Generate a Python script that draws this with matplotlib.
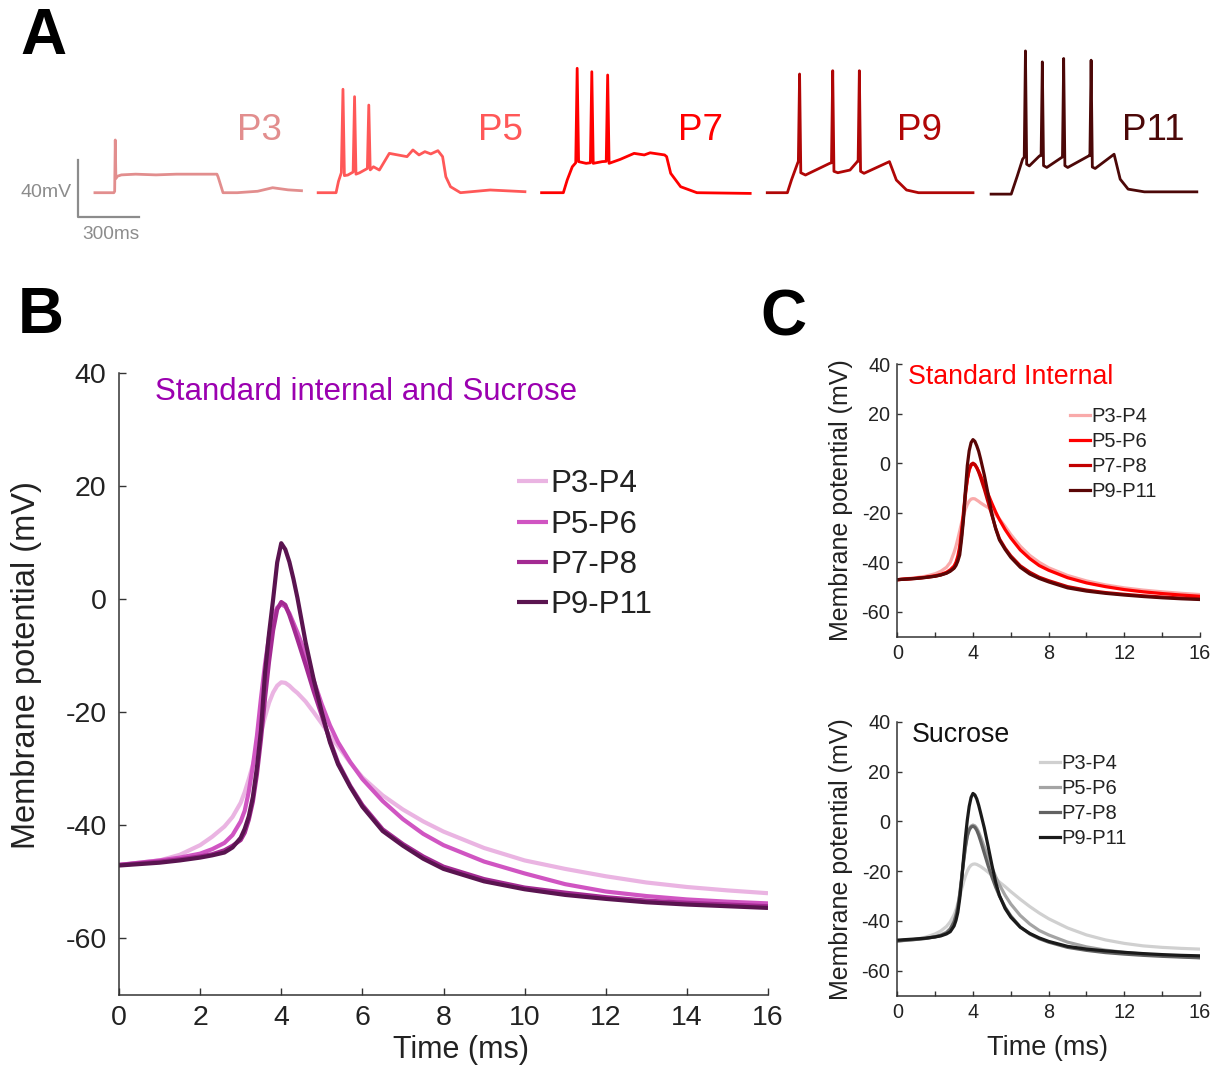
import matplotlib
matplotlib.use("Agg")
import matplotlib.pyplot as plt
from matplotlib.ticker import MultipleLocator

plt.rcParams['font.family'] = ['Liberation Sans', 'DejaVu Sans']
plt.rcParams['axes.unicode_minus'] = False

# ---------------- data ----------------
# panel A: example current-clamp traces (ms, mV re. baseline)
a_labels = ['P3', 'P5', 'P7', 'P9', 'P11']
a_p3_t = [0, 93, 97, 100, 103, 110, 130, 200, 300, 400, 500, 600, 606, 630, 700, 800, 874, 950, 1016]
a_p3_v = [0, 0, 1, 37, 10, 11.5, 12.5, 13, 12.5, 13, 13, 13, 11, 0, 0, 1, 3.5, 2, 1.4]
a_p5_t = [0, 88, 100, 114, 122, 129, 146, 172, 179, 186, 204, 242, 249, 256, 272, 301, 350, 437, 466,
          496, 525, 554, 589, 612, 628, 651, 700, 846, 1017]
a_p5_v = [0, 0, 8, 14, 72.6, 12, 12.4, 14.5, 67.4, 13, 14, 17, 61.5, 16, 18.2, 15.9, 27.6, 25.3, 30,
          26.5, 28.8, 27.2, 29.5, 25.3, 11.2, 4.2, 0, 1.9, 0.7]
a_p7_t = [0, 107, 126, 151, 168, 175, 182, 219, 240, 247, 254, 298, 318, 325, 332, 387, 455, 505, 534,
          605, 615, 635, 684, 764, 1026]
a_p7_v = [0, 0, 8.9, 18.2, 21, 87.3, 21.8, 20.6, 21, 84.9, 20.6, 21.8, 22, 82.6, 20.6, 23.4, 27.6, 26.5, 28,
          26.5, 25.3, 13.6, 4.2, 0, -0.5]
a_p9_t = [0, 99, 119, 149, 153, 159, 165, 188, 307, 316, 322, 328, 347, 407, 443, 447, 453, 459, 476,
          546, 601, 635, 685, 744, 1012]
a_p9_v = [0, 0, 8.9, 20.6, 22, 83.3, 14, 12.4, 20.6, 21, 85.6, 15, 14, 15.9, 21.8, 22, 85.6, 15, 13.6,
          18.2, 21.8, 8.9, 1.9, 0, 0]
a_p11_t = [0, 99, 129, 155, 163, 169, 175, 188, 238, 246, 252, 258, 274, 347, 351, 357, 363, 377, 480,
           486, 492, 498, 512, 605, 635, 674, 754, 1012]
a_p11_v = [-1, -1, 11.8, 23.5, 25, 99.5, 20, 18.8, 25.8, 26, 91.8, 19, 17.7, 24.7, 25, 94.2, 19, 17.7, 25.8,
           26, 93, 18, 17, 27, 9.5, 2.5, 0.6, 0.6]

# panels B and C: averaged action potentials
ages = ['P3-P4', 'P5-P6', 'P7-P8', 'P9-P11']
time_ms = [0, 1, 1.5, 2, 2.3, 2.6, 2.8, 3.0, 3.1, 3.2, 3.3, 3.4, 3.5, 3.6, 3.7, 3.8, 3.9, 4.0, 4.1, 4.2,
           4.3, 4.4, 4.6, 4.8, 5.0, 5.2, 5.4, 5.7, 6.0, 6.5, 7, 7.5, 8, 9, 10, 11, 12, 13, 14, 15, 16]

b_p3 = [-47, -46.2, -45.2, -43.5, -42, -40.2, -38.5, -36, -34.1, -31.8, -29.3, -26.5, -23.6, -20.8, -18.3,
        -16.5, -15.3, -14.7, -14.8, -15.3, -16, -16.6, -18.1, -20, -22, -24.1, -26, -28.9, -31.5, -34.7,
        -37.2, -39.3, -41.1, -44, -46.2, -47.7, -49, -50.1, -50.9, -51.5, -52]
b_p5 = [-47, -46.2, -45.7, -45, -44.2, -43.1, -41.7, -39.3, -37.4, -34, -29.5, -24.2, -17.5, -11.5, -6.5,
        -3.2, -1.5, -0.9, -1.3, -2.5, -4.2, -5.9, -9.7, -14.4, -18.6, -22.3, -25.3, -28.8, -31.8, -35.7,
        -38.9, -41.5, -43.5, -46.4, -48.5, -50.4, -51.7, -52.5, -53.1, -53.5, -53.8]
b_p7 = [-47, -46.4, -46, -45.5, -45.1, -44.4, -43.6, -42.6, -41.3, -39, -35.8, -31, -24.8, -17.5, -11,
        -5.5, -1.8, -0.5, -1.0, -2.8, -4.9, -7.1, -11.6, -16.3, -20.6, -25, -28.9, -33, -36.4, -40.7,
        -43.3, -45.5, -47.3, -49.5, -51, -51.9, -52.7, -53.3, -53.7, -54, -54.3]
b_p9 = [-47.1, -46.6, -46.2, -45.7, -45.3, -44.8, -43.9, -42.2, -40.6, -38.4, -35, -29.8, -23.2, -13, -6,
        0, 6.5, 9.9, 8.8, 6.6, 3.6, 0.2, -7.6, -14.2, -20, -25.3, -29.2, -33.2, -36.7, -41,
        -43.6, -45.9, -47.7, -49.9, -51.3, -52.3, -53, -53.6, -54, -54.3, -54.6]

std_p3 = [-47, -46.2, -45.6, -44.6, -43.6, -42, -40, -36, -33.5, -30.5, -27.3, -24, -21, -18.6, -16.7,
          -15.3, -14.5, -14.3, -14.4, -14.9, -15.4, -16, -17, -17.9, -19.2, -20.8, -22.5, -25.5, -28.8, -33.5,
          -37.2, -40, -42.2, -45.3, -47.5, -49.1, -50.3, -51.2, -51.9, -52.5, -53]
std_p5 = [-47, -46.4, -46, -45.4, -44.9, -44, -43, -41.5, -40, -37.5, -33.5, -27, -19.5, -12, -6.5,
          -2.8, -0.9, -0.3, -0.7, -1.8, -3.3, -5, -8.7, -12.5, -16.2, -19.7, -22.8, -26.8, -30.2, -35,
          -38.5, -41.3, -43.2, -46.2, -48.3, -49.8, -51, -51.9, -52.6, -53.2, -53.7]
std_p7 = [-47, -46.5, -46.1, -45.6, -45.1, -44.3, -43.4, -42.2, -40.8, -38.5, -35, -29, -21.5, -13, -6.5,
          -2.3, -0.5, 0, -0.5, -1.8, -3.6, -5.8, -10.5, -15.8, -21, -26.2, -30.5, -34.3, -37.4, -41.4,
          -44, -46, -47.4, -49.8, -51.2, -52.2, -52.9, -53.5, -54, -54.4, -54.7]
std_p9 = [-47, -46.5, -46.1, -45.6, -45.1, -44.4, -43.6, -42.4, -41.3, -39.5, -37, -30.5, -22.5, -11, -1,
          5, 8.3, 9.5, 8.8, 7, 4.8, 1.8, -4.8, -12.5, -20.5, -26.5, -31, -34.8, -38, -42,
          -44.7, -46.5, -47.9, -50.3, -51.6, -52.5, -53.2, -53.8, -54.3, -54.7, -55]

suc_p3 = [-48.2, -47.3, -46.5, -45.2, -44, -42.2, -40.3, -37.5, -35.5, -33, -30.2, -27.3, -24.5, -22, -20,
          -18.5, -17.6, -17.2, -17.1, -17.3, -17.7, -18.1, -19.2, -20.4, -21.7, -23, -24.4, -26.2, -28.2, -31.3,
          -34.2, -36.8, -39.1, -42.8, -45.6, -47.6, -49, -50, -50.6, -51, -51.3]
suc_p5 = [-48, -47.4, -47, -46.3, -45.6, -44.5, -43, -40, -37.5, -34, -29, -22.5, -16, -10, -5.5,
          -3, -1.9, -1.5, -1.8, -2.8, -4.3, -6.2, -10.3, -14.5, -18.5, -22.2, -25.5, -29.7, -33.2, -37.8,
          -41.2, -43.8, -45.6, -48.5, -50.4, -51.7, -52.6, -53.3, -53.9, -54.3, -54.7]
suc_p7 = [-48, -47.4, -47, -46.4, -45.8, -44.8, -43.3, -40.5, -38, -34.5, -29.5, -23, -16.5, -10.5, -6,
          -3.5, -2.3, -2, -2.4, -3.6, -5.5, -7.8, -12.8, -17.8, -22.3, -26.4, -30, -34.5, -38, -42.4,
          -45.2, -47.1, -48.5, -50.6, -51.8, -52.7, -53.3, -53.8, -54.2, -54.5, -54.8]
suc_p9 = [-47.7, -47.2, -46.9, -46.4, -46, -45.2, -44.3, -42, -39.8, -36.5, -31, -23.5, -15, -6.5, 0.5,
          6, 9.6, 11.2, 10.6, 9, 6.5, 3.5, -2.7, -10, -17.5, -24.5, -29.8, -35, -38.5, -42.5,
          -45, -46.8, -48.2, -50.2, -51.3, -52, -52.6, -53.1, -53.5, -53.8, -54]

# ---------------- styles ----------------
a_colors = ['#e28e8e', '#ff5858', '#ff0000', '#b00606', '#4c0808']
a_offsets_ms = [467, 1565, 2664, 3774, 4875]
a_label_px = [237, 478, 678, 897, 1122]
b_colors = ['#eab4e2', '#d055c2', '#a32a92', '#5a1450']
std_colors = ['#f9aaaa', '#ff0000', '#c20000', '#5a0606']
suc_colors = ['#d0d0d0', '#a4a4a4', '#626262', '#1a1a1a']
ink = '#222222'

W, H = 1231, 1068
fig = plt.figure(figsize=(W / 100, H / 100), dpi=100)


def px_axes(left, top, right, bottom):
    return fig.add_axes([left / W, 1 - bottom / H, (right - left) / W, (bottom - top) / H])


def style_axes(ax, tick_size, tick_len, pad):
    for s in ['top', 'right']:
        ax.spines[s].set_visible(False)
    for s in ['left', 'bottom']:
        ax.spines[s].set_color('#333333')
        ax.spines[s].set_linewidth(1.1)
    ax.tick_params(which='both', direction='in', length=tick_len, width=1.0,
                   colors='#333333', labelcolor=ink, labelsize=tick_size, pad=pad)


# ---------------- panel A ----------------
axA = px_axes(0, 0, W, 260)
axA.set_xlim(0, W / 0.2033)
axA.set_ylim(-(260 - 192.7) / 1.425, 192.7 / 1.425)
axA.axis('off')
a_t = [a_p3_t, a_p5_t, a_p7_t, a_p9_t, a_p11_t]
a_v = [a_p3_v, a_p5_v, a_p7_v, a_p9_v, a_p11_v]
for t, v, c, x0 in zip(a_t, a_v, a_colors, a_offsets_ms):
    axA.plot([x0 + ti for ti in t], v, color=c, lw=2.0, solid_joinstyle='round')
# scale bar 40 mV / 300 ms
axA.plot([386, 386, 686], [23, -17, -17], color='#8c8c8c', lw=1.6)
axA.text(354, 0.3, '40mV', color='#8c8c8c', fontsize=14, ha='right', va='center')
axA.text(546, -29.5, '300ms', color='#8c8c8c', fontsize=13.7, ha='center', va='center')
for lab, c, xp in zip(a_labels, a_colors, a_label_px):
    fig.text(xp / W, 1 - 131 / H, lab, color=c, fontsize=26.5, ha='left', va='center')

# ---------------- panel B ----------------
axB = px_axes(119, 373, 768, 995)
for vals, c, lab in zip([b_p3, b_p5, b_p7, b_p9], b_colors, ages):
    axB.plot(time_ms, vals, color=c, lw=3.0, label=lab, solid_capstyle='butt')
axB.set_xlim(0, 16)
axB.set_ylim(-70, 40)
axB.set_xticks(range(0, 17, 2))
axB.set_yticks(range(-60, 41, 20))
style_axes(axB, 20.5, 5, 7)
axB.tick_params(axis='y', pad=9)
axB.set_xlabel('Time (ms)', fontsize=22, color=ink)
axB.xaxis.set_label_coords(0.527, -0.064)
axB.set_ylabel('Membrane potential (mV)', fontsize=23.5, color=ink)
axB.yaxis.set_label_coords(-0.119, 0.53)
axB.text(0.0555, 0.97, 'Standard internal and Sucrose', transform=axB.transAxes,
         color='#9b00b0', fontsize=22.5, ha='left', va='center')
axB.legend(loc='upper left', bbox_to_anchor=(0.613, 0.845), frameon=False, fontsize=22.5,
           handlelength=1.0, handletextpad=0.08, labelspacing=0.33, borderpad=0, borderaxespad=0,
           labelcolor=ink)

# ---------------- panel C ----------------
def panel_c(ax, series, colors, title, tcolor, ty, leg_xy):
    for vals, c, lab in zip(series, colors, ages):
        ax.plot(time_ms, vals, color=c, lw=2.3, label=lab)
    ax.set_xlim(0, 16)
    ax.set_ylim(-70, 40)
    ax.set_xticks(range(0, 17, 4))
    ax.xaxis.set_minor_locator(MultipleLocator(2))
    ax.set_yticks(range(-60, 41, 20))
    style_axes(ax, 14.3, 3.5, 5)
    ax.set_ylabel('Membrane potential (mV)', fontsize=18, color=ink)
    ax.yaxis.set_label_coords(-0.145, 0.5)
    ax.text(leg_xy[2], ty, title, transform=ax.transAxes, color=tcolor, fontsize=19.3,
            ha='left', va='center')
    ax.legend(loc='upper left', bbox_to_anchor=leg_xy[:2], frameon=False, fontsize=14.5,
              handlelength=1.0, handletextpad=0.08, labelspacing=0.3, borderpad=0,
              borderaxespad=0, labelcolor=ink)


axC1 = px_axes(897.3, 364, 1200, 636.7)
panel_c(axC1, [std_p3, std_p5, std_p7, std_p9], std_colors, 'Standard Internal', '#ff0000', 0.953,
        (0.57, 0.842, 0.035))
axC2 = px_axes(897.3, 721.7, 1200, 995.7)
panel_c(axC2, [suc_p3, suc_p5, suc_p7, suc_p9], suc_colors, 'Sucrose', '#111111', 0.95,
        (0.471, 0.882, 0.048))
axC2.set_xlabel('Time (ms)', fontsize=19.5, color=ink)
axC2.xaxis.set_label_coords(0.495, -0.143)

# panel letters
for lab, xp, yp in [('A', 20, 37), ('B', 18, 316), ('C', 760, 318)]:
    fig.text(xp / W, 1 - yp / H, lab, fontsize=46, fontweight='bold', ha='left', va='center')

fig.savefig('out.png', dpi=100)
